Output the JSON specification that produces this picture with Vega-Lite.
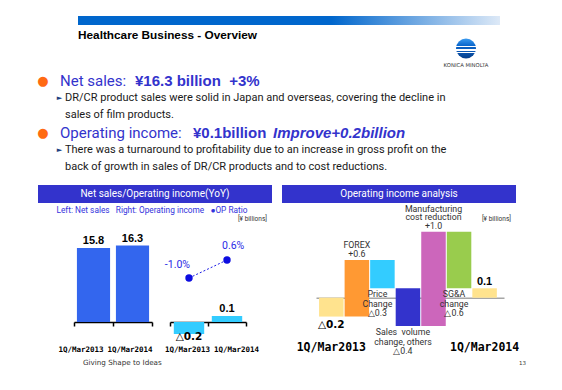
{
  "$schema": "https://vega.github.io/schema/vega-lite/v6.json",
  "width": 562,
  "height": 390,
  "padding": 0,
  "autosize": {"type": "none"},
  "background": "#ffffff",
  "config": {"view": {"stroke": null}, "font": "Roboto"},
  "title": {
    "text": "Healthcare Business - Overview",
    "anchor": "start",
    "frame": "group",
    "orient": "top",
    "offset": -42,
    "dx": 78,
    "font": "Liberation Sans",
    "fontSize": 11.8,
    "fontWeight": "bold",
    "color": "#000000"
  },
  "resolve": {
    "scale": {"x": "independent", "y": "independent", "color": "independent"},
    "axis": {"x": "independent", "y": "independent"}
  },
  "layer": [
    {
      "data": {"values": [{"section": "Healthcare Business"}]},
      "mark": {
        "type": "rect",
        "fill": {
          "gradient": "linear", "x1": 0, "x2": 1, "y1": 0, "y2": 0,
          "stops": [
            {"offset": 0, "color": "#0066cc"},
            {"offset": 0.6, "color": "#0066cc"},
            {"offset": 1, "color": "#dde9f7"}
          ]
        }
      },
      "encoding": {
        "x": {"field": "section", "type": "nominal", "scale": {"type": "band", "range": [78, 500], "paddingInner": 0, "paddingOuter": 0}, "axis": null},
        "y": {"field": "section", "type": "nominal", "scale": {"type": "band", "range": [16, 25], "paddingInner": 0, "paddingOuter": 0}, "axis": null}
      }
    },
    {
      "data": {"values": [{"company": "KONICA MINOLTA"}]},
      "encoding": {
        "x": {"field": "company", "type": "nominal", "scale": {"type": "point", "range": [466, 466]}, "axis": null},
        "y": {"field": "company", "type": "nominal", "scale": {"type": "point", "range": [48.5, 48.5]}, "axis": null}
      },
      "layer": [
        {
          "mark": {
            "type": "point", "shape": "circle", "filled": true, "size": 400, "opacity": 1,
            "fill": {
              "gradient": "linear", "x1": 0, "x2": 0, "y1": 0, "y2": 1,
              "stops": [
                {"offset": 0, "color": "#3d9cf0"},
                {"offset": 0.36, "color": "#0a66cc"},
                {"offset": 0.37, "color": "#ffffff"},
                {"offset": 0.44, "color": "#ffffff"},
                {"offset": 0.45, "color": "#0a5ec0"},
                {"offset": 0.53, "color": "#0a5ec0"},
                {"offset": 0.54, "color": "#ffffff"},
                {"offset": 0.6, "color": "#ffffff"},
                {"offset": 0.61, "color": "#0956b4"},
                {"offset": 0.68, "color": "#0956b4"},
                {"offset": 0.69, "color": "#ffffff"},
                {"offset": 0.73, "color": "#ffffff"},
                {"offset": 0.74, "color": "#0850a8"},
                {"offset": 1, "color": "#063d8a"}
              ]
            }
          }
        },
        {
          "mark": {"type": "text", "dy": 16.5, "font": "DejaVu Sans", "fontSize": 5.3, "color": "#333333", "baseline": "middle"},
          "encoding": {"text": {"field": "company"}}
        }
      ]
    },
    {
      "data": {
        "values": [
          {"line": 1, "level": "heading", "part": "label", "text": "Net sales:"},
          {"line": 1, "level": "heading", "part": "figure", "text": "¥16.3 billion\u00a0\u00a0+3%"},
          {"line": 2, "level": "detail", "part": "text", "text": "DR/CR product sales were solid in Japan and overseas, covering the decline in"},
          {"line": 3, "level": "detail", "part": "cont", "text": "sales of film products."},
          {"line": 4, "level": "heading", "part": "label", "text": "Operating income:"},
          {"line": 4, "level": "heading", "part": "figure", "text": "¥0.1billion"},
          {"line": 4, "level": "heading", "part": "change", "text": "Improve+0.2billion"},
          {"line": 5, "level": "detail", "part": "text", "text": "There was a turnaround to profitability due to an increase in gross profit on the"},
          {"line": 6, "level": "detail", "part": "cont", "text": "back of growth in sales of DR/CR products and to cost reductions."}
        ]
      },
      "encoding": {
        "y": {"field": "line", "type": "quantitative", "scale": {"domain": [1, 6], "range": [81, 167], "zero": false, "nice": false}, "axis": null},
        "x": {"field": "level", "type": "nominal", "scale": {"type": "point", "domain": ["heading", "detail"], "range": [60, 65], "padding": 0}, "axis": null},
        "text": {"field": "text"}
      },
      "layer": [
        {
          "transform": [{"filter": "datum.part === 'label'"}],
          "mark": {"type": "text", "align": "left", "baseline": "middle", "font": "Roboto", "fontSize": 15, "color": "#3333cc"}
        },
        {
          "transform": [{"filter": "datum.part === 'label'"}],
          "mark": {"type": "text", "align": "center", "baseline": "middle", "dx": -17, "font": "DejaVu Sans", "fontSize": 13, "color": "#ff6a13"},
          "encoding": {"text": {"value": "●"}}
        },
        {
          "transform": [{"filter": "datum.part === 'figure' && datum.line === 1"}],
          "mark": {"type": "text", "align": "left", "baseline": "middle", "dx": 75, "font": "Liberation Sans", "fontWeight": "bold", "fontSize": 15, "color": "#3333cc"}
        },
        {
          "transform": [{"filter": "datum.part === 'figure' && datum.line === 4"}],
          "mark": {"type": "text", "align": "left", "baseline": "middle", "dx": 133, "font": "Liberation Sans", "fontWeight": "bold", "fontSize": 15, "color": "#3333cc"}
        },
        {
          "transform": [{"filter": "datum.part === 'change'"}],
          "mark": {"type": "text", "align": "left", "baseline": "middle", "dx": 213, "font": "Liberation Sans", "fontWeight": "bold", "fontStyle": "italic", "fontSize": 15, "color": "#3333cc"}
        },
        {
          "transform": [{"filter": "datum.level === 'detail'"}],
          "mark": {"type": "text", "align": "left", "baseline": "middle", "font": "Roboto", "fontSize": 11, "color": "#1a1a1a"}
        },
        {
          "transform": [{"filter": "datum.part === 'text'"}],
          "mark": {"type": "text", "align": "center", "baseline": "middle", "dx": -5.5, "font": "DejaVu Sans", "fontSize": 7, "color": "#1f3f7f"},
          "encoding": {"text": {"value": "►"}}
        }
      ]
    },
    {
      "data": {
        "values": [
          {"panel": "Net sales/Operating income(YoY)", "band": "header"},
          {"panel": "Operating income analysis", "band": "header"}
        ]
      },
      "encoding": {
        "x": {"field": "panel", "type": "nominal", "sort": null, "scale": {"type": "band", "domain": ["Net sales/Operating income(YoY)", "Operating income analysis"], "range": [38, 516], "paddingInner": 0.041, "paddingOuter": 0}, "axis": null},
        "y": {"field": "band", "type": "nominal", "scale": {"type": "band", "range": [185, 203], "paddingInner": 0, "paddingOuter": 0}, "axis": null}
      },
      "layer": [
        {"mark": {"type": "rect", "color": "#3333cc"}},
        {
          "mark": {"type": "text", "color": "#ffffff", "font": "Roboto", "fontSize": 10, "baseline": "middle"},
          "encoding": {"text": {"field": "panel"}}
        }
      ]
    },
    {
      "data": {
        "values": [
          {"panel": "Net sales/Operating income(YoY)", "row": "legend", "text": "Left: Net sales\u00a0\u00a0\u00a0Right: Operating income\u00a0\u00a0\u00a0●OP Ratio"},
          {"panel": "Net sales/Operating income(YoY)", "row": "unit", "text": "[¥ billions]"},
          {"panel": "Operating income analysis", "row": "unit", "text": "[¥ billions]"}
        ]
      },
      "encoding": {
        "y": {"field": "row", "type": "nominal", "scale": {"type": "point", "domain": ["legend", "unit"], "range": [211, 219], "padding": 0}, "axis": null},
        "text": {"field": "text"}
      },
      "layer": [
        {
          "transform": [{"filter": "datum.row === 'legend'"}],
          "mark": {"type": "text", "font": "Roboto", "fontSize": 8.3, "color": "#3333dd", "baseline": "middle", "dx": -3},
          "encoding": {
            "x": {"field": "panel", "type": "nominal", "sort": null, "scale": {"type": "band", "domain": ["Net sales/Operating income(YoY)", "Operating income analysis"], "range": [38, 516], "paddingInner": 0.041, "paddingOuter": 0}, "axis": null}
          }
        },
        {
          "transform": [{"filter": "datum.row === 'unit'"}],
          "mark": {"type": "text", "font": "Roboto", "fontSize": 6.5, "color": "#333333", "baseline": "middle", "align": "right", "dx": -5},
          "encoding": {
            "x": {"field": "panel", "type": "nominal", "sort": null, "bandPosition": 1, "scale": {"type": "band", "domain": ["Net sales/Operating income(YoY)", "Operating income analysis"], "range": [38, 516], "paddingInner": 0.041, "paddingOuter": 0}, "axis": null}
          }
        }
      ]
    },
    {
      "data": {"values": [{"period": "1Q/Mar2013", "sales": 15.8}, {"period": "1Q/Mar2014", "sales": 16.3}]},
      "encoding": {
        "x": {
          "field": "period", "type": "ordinal",
          "scale": {"type": "band", "range": [74, 152], "paddingInner": 0, "paddingOuter": 0},
          "axis": {
            "orient": "bottom", "offset": -68, "title": null, "grid": false,
            "domainColor": "#000000", "domainWidth": 1.5,
            "tickColor": "#000000", "tickWidth": 1.5, "tickSize": 4, "tickBand": "extent",
            "labelAngle": 0, "labelFont": "DejaVu Sans Mono", "labelFontWeight": "bold", "labelFontSize": 7.5, "labelColor": "#000000",
            "labelPadding": 19,
            "labelOffset": {"expr": "datum.value === '1Q/Mar2013' ? -13 : -3"}
          }
        },
        "y": {"field": "sales", "type": "quantitative", "scale": {"domain": [0, 16], "range": [322, 247], "nice": false}, "axis": null}
      },
      "layer": [
        {"mark": {"type": "bar", "width": {"band": 0.85}, "color": "#3366ee"}},
        {
          "mark": {"type": "text", "baseline": "bottom", "dy": -2, "font": "Liberation Sans", "fontWeight": "bold", "fontSize": 11, "color": "#000000"},
          "encoding": {"text": {"field": "sales", "type": "quantitative", "format": ".1f"}}
        }
      ]
    },
    {
      "data": {"values": [{"period": "1Q/Mar2013", "income": -0.2, "label": "△0.2"}, {"period": "1Q/Mar2014", "income": 0.1, "label": "0.1"}]},
      "encoding": {
        "x": {
          "field": "period", "type": "ordinal",
          "scale": {"type": "band", "range": [170, 246], "paddingInner": 0, "paddingOuter": 0},
          "axis": {
            "orient": "bottom", "offset": -68, "title": null, "grid": false,
            "domainColor": "#000000", "domainWidth": 1.5,
            "tickColor": "#000000", "tickWidth": 1.5, "tickSize": 4, "tickBand": "extent",
            "labelAngle": 0, "labelFont": "DejaVu Sans Mono", "labelFontWeight": "bold", "labelFontSize": 7.5, "labelColor": "#000000",
            "labelPadding": 19,
            "labelOffset": {"expr": "datum.value === '1Q/Mar2013' ? -2 : 9"}
          }
        },
        "y": {"field": "income", "type": "quantitative", "scale": {"domain": [-0.2, 0.1], "range": [334, 316], "nice": false}, "axis": null},
        "text": {"field": "label"}
      },
      "layer": [
        {"mark": {"type": "bar", "width": {"band": 0.8}, "color": "#33ccff"}},
        {
          "transform": [{"filter": "datum.income < 0"}],
          "mark": {"type": "text", "baseline": "top", "dy": -2, "font": "DejaVu Sans", "fontWeight": "bold", "fontSize": 10.5, "color": "#000000"}
        },
        {
          "transform": [{"filter": "datum.income > 0"}],
          "mark": {"type": "text", "baseline": "bottom", "dy": -2, "font": "Liberation Sans", "fontWeight": "bold", "fontSize": 11, "color": "#000000"}
        }
      ]
    },
    {
      "data": {"values": [{"period": "1Q/Mar2013", "ratio": -1.0, "ratioText": "-1.0%"}, {"period": "1Q/Mar2014", "ratio": 0.6, "ratioText": "0.6%"}]},
      "encoding": {
        "x": {"field": "period", "type": "ordinal", "scale": {"type": "band", "range": [170, 246], "paddingInner": 0, "paddingOuter": 0}, "axis": null},
        "y": {"field": "ratio", "type": "quantitative", "scale": {"domain": [-1.0, 0.6], "range": [278, 260], "nice": false, "zero": false}, "axis": null},
        "text": {"field": "ratioText"}
      },
      "layer": [
        {"mark": {"type": "line", "color": "#1a1ae6", "strokeWidth": 1, "strokeDash": [2, 2]}},
        {"mark": {"type": "point", "shape": "circle", "filled": true, "size": 55, "opacity": 1, "color": "#0d0de0"}},
        {
          "transform": [{"filter": "datum.period === '1Q/Mar2013'"}],
          "mark": {"type": "text", "align": "right", "baseline": "middle", "dx": 1, "dy": -13, "font": "Roboto", "fontSize": 10.5, "color": "#2a2ae6"}
        },
        {
          "transform": [{"filter": "datum.period === '1Q/Mar2014'"}],
          "mark": {"type": "text", "align": "left", "baseline": "middle", "dx": -5, "dy": -14, "font": "Roboto", "fontSize": 10.5, "color": "#2a2ae6"}
        }
      ]
    },
    {
      "data": {
        "values": [
          {"step": "1Q/Mar2013", "kind": "total", "amount": -0.2, "from": 0, "to": -0.2, "label": "△0.2"},
          {"step": "FOREX", "kind": "change", "amount": 0.6, "from": -0.2, "to": 0.4, "label": "FOREX\n+0.6"},
          {"step": "Price change", "kind": "change", "amount": -0.3, "from": 0.4, "to": 0.1, "label": "Price\nChange\n△0.3"},
          {"step": "Sales volume change, others", "kind": "change", "amount": -0.4, "from": 0.1, "to": -0.3, "label": "Sales\u00a0\u00a0volume\nchange, others\n△0.4"},
          {"step": "Manufacturing cost reduction", "kind": "change", "amount": 1.0, "from": -0.3, "to": 0.7, "label": "Manufacturing\ncost reduction\n+1.0"},
          {"step": "SG&A change", "kind": "change", "amount": -0.6, "from": 0.7, "to": 0.1, "label": "SG&A\nchange\n△0.6"},
          {"step": "1Q/Mar2014", "kind": "total", "amount": 0.1, "from": 0, "to": 0.1, "label": "0.1"}
        ]
      },
      "encoding": {
        "x": {
          "field": "step", "type": "nominal", "sort": null,
          "scale": {"type": "band", "range": [316, 504], "paddingInner": 0.04, "paddingOuter": 0.2, "align": 0.3},
          "axis": {
            "orient": "bottom", "offset": -92.3, "title": null, "grid": false,
            "values": ["1Q/Mar2013", "1Q/Mar2014"],
            "domainColor": "#a6a6a6", "domainWidth": 1.5, "ticks": false,
            "labelAngle": 0, "labelFont": "DejaVu Sans Mono", "labelFontWeight": "bold", "labelFontSize": 11.5, "labelColor": "#000000",
            "labelPadding": 44
          }
        },
        "y": {"field": "to", "type": "quantitative", "scale": {"domain": [-0.3, 0.7], "range": [326, 231.7], "nice": false, "zero": false}, "axis": null},
        "text": {"field": "label"}
      },
      "layer": [
        {
          "mark": {"type": "bar"},
          "encoding": {
            "y": {"field": "from", "type": "quantitative", "scale": {"domain": [-0.3, 0.7], "range": [326, 231.7], "nice": false, "zero": false}, "axis": null},
            "y2": {"field": "to"},
            "color": {
              "field": "step", "type": "nominal", "sort": null, "legend": null,
              "scale": {
                "domain": ["1Q/Mar2013", "FOREX", "Price change", "Sales volume change, others", "Manufacturing cost reduction", "SG&A change", "1Q/Mar2014"],
                "range": ["#ffe38e", "#ff9933", "#33ccff", "#3333cc", "#cc66bb", "#99cc4d", "#ffe38e"]
              }
            }
          }
        },
        {
          "transform": [{"filter": "datum.step === 'FOREX'"}],
          "mark": {"type": "text", "baseline": "bottom", "dy": -10, "lineBreak": "\n", "lineHeight": 9, "font": "Roboto", "fontSize": 8.8, "color": "#333333"}
        },
        {
          "transform": [{"filter": "datum.step === 'Manufacturing cost reduction'"}],
          "mark": {"type": "text", "baseline": "bottom", "dy": -18, "lineBreak": "\n", "lineHeight": 8.5, "font": "Roboto", "fontSize": 8.8, "color": "#333333"}
        },
        {
          "transform": [{"filter": "datum.kind === 'change' && datum.amount < 0"}],
          "mark": {"type": "text", "baseline": "top", "dy": 2, "dx": -5, "lineBreak": "\n", "lineHeight": 9.5, "font": "Roboto", "fontSize": 8.8, "color": "#333333"}
        },
        {
          "transform": [{"filter": "datum.kind === 'total' && datum.amount < 0"}],
          "mark": {"type": "text", "baseline": "top", "dy": 3, "font": "DejaVu Sans", "fontWeight": "bold", "fontSize": 10.5, "color": "#000000"}
        },
        {
          "transform": [{"filter": "datum.kind === 'total' && datum.amount > 0"}],
          "mark": {"type": "text", "baseline": "bottom", "dy": -1, "font": "Liberation Sans", "fontWeight": "bold", "fontSize": 11, "color": "#000000"}
        }
      ]
    },
    {
      "data": {"values": [{"text": "Giving Shape to Ideas", "side": "left", "zone": "footer"}, {"text": "13", "side": "right", "zone": "footer"}]},
      "encoding": {
        "x": {"field": "side", "type": "nominal", "scale": {"type": "point", "domain": ["left", "right"], "range": [83, 519], "padding": 0}, "axis": null},
        "y": {"field": "zone", "type": "nominal", "scale": {"type": "point", "range": [363, 363]}, "axis": null},
        "text": {"field": "text"}
      },
      "layer": [
        {
          "transform": [{"filter": "datum.side === 'left'"}],
          "mark": {"type": "text", "align": "left", "baseline": "middle", "font": "DejaVu Sans", "fontSize": 7.2, "color": "#333333"}
        },
        {
          "transform": [{"filter": "datum.side === 'right'"}],
          "mark": {"type": "text", "align": "left", "baseline": "middle", "font": "DejaVu Sans", "fontSize": 5.5, "color": "#333333"}
        }
      ]
    }
  ]
}
